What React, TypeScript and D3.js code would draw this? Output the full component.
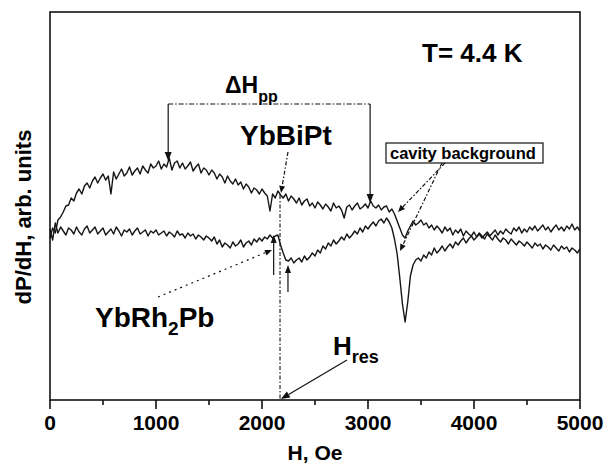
import React, { useEffect, useRef } from 'react';
import * as d3 from 'd3';

// field sweep in Oe, one point every 25 Oe
const fieldOe = d3.range(0, 5001, 25);

// dP/dH, arb. units (0 = YbRh2Pb baseline)
const ybBiPt = [
  -0.6, 0.4, -0.1, 1.2, 1.5, 2.0, 2.6, 2.7, 3.4, 3.1,
  3.9, 4.3, 3.8, 4.6, 4.9, 4.4, 5.1, 5.5, 4.9, 5.4,
  5.8, 5.2, 5.6, 3.8, 6.0, 5.3, 5.8, 6.3, 5.6, 5.9,
  6.5, 5.7, 6.1, 6.4, 5.8, 6.6, 6.2, 5.9, 6.8, 6.4,
  6.6, 7.1, 6.3, 6.8, 6.5, 7.4, 6.2, 6.9, 7.1, 6.4,
  6.9, 6.3, 6.6, 7.0, 6.1, 6.5, 6.8, 5.9, 6.4, 6.2,
  5.7, 6.2, 5.9, 5.3, 5.8, 5.5, 4.9, 5.6, 5.1, 4.8,
  5.3, 4.7, 5.0, 4.3, 4.8, 4.5, 3.9, 4.4, 4.2, 3.8,
  4.3, 3.9, 3.6, 2.1, 3.8, 3.4, 4.1, 3.7, 3.4, 3.8,
  3.1, 3.6, 3.3, 2.9, 3.4, 2.7, 3.1, 3.3, 2.6, 2.9,
  2.4, 3.0, 2.7, 2.3, 2.8, 2.5, 2.1, 2.9, 2.4, 2.6,
  2.2, 1.4, 2.5, 2.7, 2.2, 2.6, 2.9, 2.3, 2.5, 2.8,
  2.4, 3.1, 2.6, 2.4, 2.7, 2.2, 2.5, 2.6, 2.0, 2.3,
  1.8, 1.1, 0.4, -0.3, -0.6, 0.1, 0.6, 1.1, 0.7, 0.9,
  1.2, 0.7, 0.9, 0.4, 0.7, 0.2, 0.6, 0.3, -0.1, 0.5,
  0.1, 0.4, -0.3, 0.2, -0.1, 0.3, -0.4, 0.1, -0.2, -0.4,
  0.0, -0.5, -0.1, -0.4, -0.7, -0.2, -0.5, -0.8, -0.3, -0.7,
  -1.0, -0.6, -0.8, -1.2, -0.7, -1.0, -1.3, -0.9, -1.1, -1.4,
  -1.0, -1.3, -1.6, -1.1, -1.4, -1.2, -1.7, -1.3, -1.5, -1.8,
  -1.3, -1.6, -1.9, -1.4, -1.7, -1.5, -2.0, -1.6, -1.8, -2.1,
  -1.7,
];

const ybRh2Pb = [
  0.3, -0.8, 0.9, -0.1, 0.5, 0.1, -0.3, 0.4, 0.2, -0.2,
  0.5, 0.0, -0.3, 0.3, 0.6, -0.1, 0.2, 0.5, -0.2, 0.1,
  0.4, -0.3, 0.0, 0.3, -0.2, 0.5, 0.1, -0.4, 0.2, 0.0,
  0.3, -0.3, 0.1, 0.4, -0.2, 0.0, 0.2, -0.4, 0.1, -0.1,
  0.2, -0.3, -0.1, 0.1, -0.4, 0.0, -0.2, -0.5, 0.1, -0.3,
  -0.2, -0.6, -0.1, -0.4, -0.2, -0.7, -0.3, -0.5, -0.8, -0.4,
  -0.6, -0.9, -0.5, -1.2, -0.8, -1.5, -1.1, -1.3, -1.6, -1.0,
  -1.4, -1.2, -0.8, -1.5, -1.1, -0.9, -1.3, -0.7, -1.0, -0.6,
  -0.9, -0.5, -0.7, -0.3, -0.6, -0.4, -0.3, -1.3, -2.1, -2.8,
  -2.9, -2.6, -3.1, -2.8, -2.6, -3.0, -2.4, -2.8, -2.5, -2.1,
  -2.4, -1.8, -2.1, -1.4, -1.7, -1.1, -1.4, -0.8, -1.2, -0.9,
  -0.5, -0.8, -0.2, -0.6, -0.3, 0.1, -0.2, 0.4, 0.0, 0.6,
  0.3, 0.7, 1.0, 0.6, 1.1, 1.3, 0.9, 1.4, 1.0, 0.4,
  -0.7, -2.2, -4.6, -7.2, -9.0, -7.0, -4.4, -3.3, -2.8, -2.6,
  -2.9, -2.3, -2.6, -2.0, -2.3, -1.6, -2.1, -1.8, -1.4, -1.9,
  -1.5, -1.2, -1.6, -1.0, -1.3, -0.9, -0.6, -1.1, -0.7, -0.4,
  -0.8, -0.5, -0.2, -0.6, -0.3, 0.0, -0.4, -0.1, 0.2, -0.3,
  0.1, -0.2, 0.3, 0.0, -0.2, 0.4, 0.1, 0.5, -0.1, 0.3,
  0.0, 0.5, 0.2, 0.6, 0.1, 0.4, 0.7, 0.2, 0.5, 0.0,
  0.4, 0.7, 0.2, 0.5, 0.1, 0.6, 0.3, 0.8, 0.2, 0.5,
  0.1,
];

const majorTicks = [0, 1000, 2000, 3000, 4000, 5000];
const minorTicks = [500, 1500, 2500, 3500, 4500];

// annotation anchors: field (Oe) and signal (arb. units)
const dHppMarks = [
  { H: 1115, tip: 7.1 },
  { H: 3020, tip: 2.9 },
];
const dHppTop = 12.8;
const hRes = 2170;

const FONT = '"Liberation Sans", Arial, Helvetica, sans-serif';

const App = () => {
  const svgRef = useRef(null);

  useEffect(() => {
    const width = 605;
    const height = 466;
    const margin = { top: 12, right: 25, bottom: 66, left: 50 };

    d3.select(svgRef.current).selectAll('*').remove();

    const svg = d3.select(svgRef.current)
      .attr('width', width)
      .attr('height', height)
      .attr('viewBox', `0 0 ${width} ${height}`);

    const x = d3.scaleLinear()
      .domain([0, 5000])
      .range([margin.left, width - margin.right]);

    const y = d3.scaleLinear()
      .domain([-16.8, 22.0])
      .range([height - margin.bottom, margin.top]);

    // arrow with filled head at (x2, y2)
    const arrow = (x1, y1, x2, y2, dash, len = 9, half = 3.5) => {
      const a = Math.atan2(y2 - y1, x2 - x1);
      const bx = x2 - len * Math.cos(a);
      const by = y2 - len * Math.sin(a);
      svg.append('line')
        .attr('x1', x1).attr('y1', y1)
        .attr('x2', bx).attr('y2', by)
        .attr('stroke', '#111')
        .attr('stroke-width', 1.2)
        .attr('stroke-dasharray', dash || null);
      svg.append('path')
        .attr('d', `M${x2},${y2}L${bx + half * Math.sin(a)},${by - half * Math.cos(a)}L${bx - half * Math.sin(a)},${by + half * Math.cos(a)}Z`)
        .attr('fill', '#111');
    };

    // curves
    const line = d3.line()
      .x((d) => x(d[0]))
      .y((d) => y(d[1]));

    [ybBiPt, ybRh2Pb].forEach((series) => {
      svg.append('path')
        .datum(fieldOe.map((h, i) => [h, series[i]]))
        .attr('fill', 'none')
        .attr('stroke', '#151515')
        .attr('stroke-width', 1.4)
        .attr('stroke-linejoin', 'round')
        .attr('d', line);
    });

    // frame
    svg.append('rect')
      .attr('x', x(0)).attr('y', y(22.0))
      .attr('width', x(5000) - x(0))
      .attr('height', y(-16.8) - y(22.0))
      .attr('fill', 'none')
      .attr('stroke', '#111')
      .attr('stroke-width', 1.6);

    // x axis ticks
    const axisY = y(-16.8);
    majorTicks.forEach((t) => {
      svg.append('line')
        .attr('x1', x(t)).attr('x2', x(t))
        .attr('y1', axisY).attr('y2', axisY + 9)
        .attr('stroke', '#111').attr('stroke-width', 1.6);
      svg.append('text')
        .attr('x', x(t)).attr('y', axisY + 30)
        .attr('text-anchor', 'middle')
        .style('font', `bold 21px ${FONT}`)
        .text(t);
    });
    minorTicks.forEach((t) => {
      svg.append('line')
        .attr('x1', x(t)).attr('x2', x(t))
        .attr('y1', axisY).attr('y2', axisY + 5)
        .attr('stroke', '#111').attr('stroke-width', 1.6);
    });

    // axis titles
    svg.append('text')
      .attr('x', (x(0) + x(5000)) / 2).attr('y', 460)
      .attr('text-anchor', 'middle')
      .style('font', `bold 21px ${FONT}`)
      .text('H, Oe');

    svg.append('text')
      .attr('transform', 'translate(31,217) rotate(-90)')
      .attr('text-anchor', 'middle')
      .style('font', `bold 22px ${FONT}`)
      .text('dP/dH, arb. units');

    // T label
    svg.append('text')
      .attr('x', 422).attr('y', 62)
      .style('font', `bold 26px ${FONT}`)
      .text('T= 4.4 K');

    // delta H pp bracket
    svg.append('line')
      .attr('x1', x(dHppMarks[0].H)).attr('x2', x(dHppMarks[1].H))
      .attr('y1', y(dHppTop)).attr('y2', y(dHppTop))
      .attr('stroke', '#111').attr('stroke-width', 1.2)
      .attr('stroke-dasharray', '5,2,1.5,2');
    dHppMarks.forEach((m) => {
      arrow(x(m.H), y(dHppTop), x(m.H), y(m.tip));
    });
    const dh = svg.append('text')
      .attr('x', 225).attr('y', 93)
      .style('font', `bold 23px ${FONT}`);
    dh.append('tspan').text('\u0394H');
    dh.append('tspan').attr('dy', 9).style('font-size', '16px').text('pp');

    // YbBiPt label and pointer
    svg.append('text')
      .attr('x', 240).attr('y', 145)
      .style('font', `bold 28px ${FONT}`)
      .text('YbBiPt');
    arrow(x(2245), y(8.0), x(2179), y(3.9), '4,2,1.5,2', 7, 3);

    // H res line and label
    svg.append('line')
      .attr('x1', x(hRes)).attr('x2', x(hRes))
      .attr('y1', y(3.7)).attr('y2', axisY)
      .attr('stroke', '#111').attr('stroke-width', 1.1)
      .attr('stroke-dasharray', '4,2,1.5,2');
    arrow(x(2802), y(-12.8), x(hRes + 8), axisY - 1);
    const hr = svg.append('text')
      .attr('x', 333).attr('y', 355)
      .style('font', `bold 26px ${FONT}`);
    hr.append('tspan').text('H');
    hr.append('tspan').attr('dy', 8).style('font-size', '18px').text('res');

    // YbRh2Pb label and markers
    const rh = svg.append('text')
      .attr('x', 95).attr('y', 327)
      .style('font', `bold 28px ${FONT}`);
    rh.append('tspan').text('YbRh');
    rh.append('tspan').attr('dy', 8).style('font-size', '19px').text('2');
    rh.append('tspan').attr('dy', -8).text('Pb');
    arrow(x(1019), y(-6.5), x(2094), y(-1.8), '2,4', 7, 3);
    arrow(x(2110), y(-4.3), x(2110), y(-0.3), null, 8, 3);
    arrow(x(2245), y(-6.0), x(2245), y(-3.3), null, 8, 3);

    // cavity background box and pointers
    svg.append('rect')
      .attr('x', 386).attr('y', 143)
      .attr('width', 157).attr('height', 20)
      .attr('fill', 'white')
      .attr('stroke', '#111').attr('stroke-width', 1.2);
    svg.append('text')
      .attr('x', 390).attr('y', 159)
      .style('font', `bold 16.5px ${FONT}`)
      .text('cavity background');
    arrow(x(3726), y(6.9), x(3283), y(2.0), '4,2,1.5,2', 7, 3);
    arrow(x(3698), y(6.9), x(3302), y(-1.9), '4,2,1.5,2', 7, 3);
  }, []);

  return (
    <svg ref={svgRef} style={{ position: 'absolute', left: 0, top: 0, background: 'white' }}></svg>
  );
};

export default App;
